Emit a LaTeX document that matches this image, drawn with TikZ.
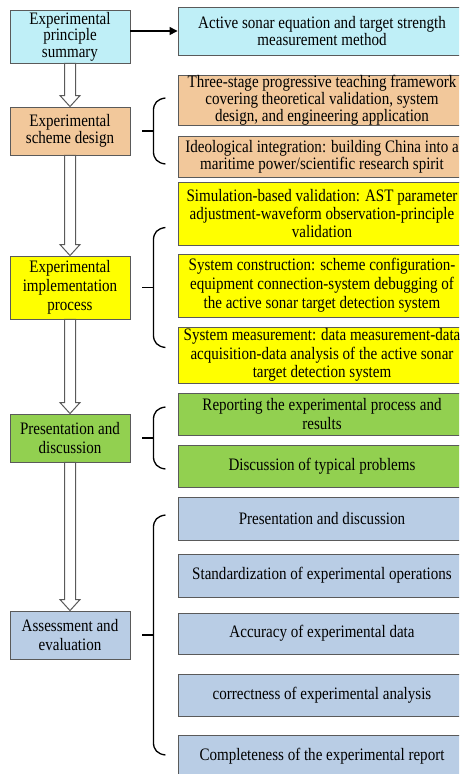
\documentclass[tikz,border=0pt]{standalone}
\usepackage{fontspec}
\setmainfont[FakeStretch=0.86]{Liberation Serif}
\usetikzlibrary{calc,arrows.meta}
\definecolor{cyanbox}{HTML}{BFEFF7}
\definecolor{tanbox}{HTML}{F2C89B}
\definecolor{yelbox}{HTML}{FFFF00}
\definecolor{grnbox}{HTML}{92D050}
\definecolor{blubox}{HTML}{B9CDE5}
\definecolor{edge}{HTML}{5A5A5A}
\tikzset{
  box/.style={draw=edge, line width=0.9pt, inner sep=0pt, align=center,
    font=\fontsize{17.5}{15}\selectfont},
  lsp/.style={font=\fontsize{17.5}{#1}\selectfont},
  lbox/.style={box, minimum width=120pt},
  rbox/.style={box, minimum width=288pt},
  hollow/.style={draw=edge, line width=1pt, fill=white, line join=miter},
  brace/.style={draw=black, line width=1.3pt},
  link/.style={draw=black, line width=1.3pt, -{Triangle[length=8pt,width=8pt]}}
}
\newcommand{\hollowarrow}[2]{%
  \path[hollow] ($(#1.south)+(-5.5,0)$) -- ($(#2.north)+(-5.5,-11)$)
    -- ($(#2.north)+(-10,-11)$) -- (#2.north) -- ($(#2.north)+(10,-11)$)
    -- ($(#2.north)+(5.5,-11)$) -- ($(#1.south)+(5.5,0)$) -- cycle;}
\newcommand{\groupbrace}[3]{% node, half height, x of curl end
  \draw[brace] ([xshift=12pt]#1.east) -- ++(11,0);
  \draw[brace] ($(#1.east)+(35,-#2)$) .. controls ($(#1.east)+(27,-#2+1)$) and ($(#1.east)+(23,-#2+5)$)
    .. ($(#1.east)+(23,-#2+13)$) -- ($(#1.east)+(23,#2-13)$)
    .. controls ($(#1.east)+(23,#2-5)$) and ($(#1.east)+(27,#2-1)$) .. ($(#1.east)+(35,#2)$);}
\begin{document}
\begin{tikzpicture}[x=1pt,y=-1pt]
\useasboundingbox (0,0) rectangle (459,774);
\clip (0,0) rectangle (459,774);
\fill[white] (0,0) rectangle (459,774);
% left column
\node[lbox, fill=cyanbox, minimum height=53pt, lsp=16.5] (p1) at (70,36.5) {Experimental\\principle\\summary};
\node[lbox, fill=tanbox, minimum height=48pt, lsp=15.5] (p2) at (70,131) {Experimental\\scheme design};
\node[lbox, fill=yelbox, minimum height=63pt, lsp=19] (p3) at (70,287.5) {Experimental\\implementation\\process};
\node[lbox, fill=grnbox, minimum height=48pt, lsp=19.5] (p4) at (70,438) {Presentation and\\discussion};
\node[lbox, fill=blubox, minimum height=48pt, lsp=18.3] (p5) at (70,635) {Assessment and\\evaluation};
% right column
\node[rbox, fill=cyanbox, minimum height=48pt, lsp=15.5] (r1) at (322,31) {Active sonar equation and target strength\\measurement method};
\node[rbox, fill=tanbox, minimum height=48pt, lsp=14.5] (o1) at (322,100) {Three-stage progressive teaching framework\\covering theoretical validation, system\\design, and engineering application};
\node[rbox, fill=tanbox, minimum height=41pt, lsp=14.5] (o2) at (322,156.5) {Ideological integration: building China into a\\maritime power/scientific research spirit};
\node[rbox, fill=yelbox, minimum height=63pt, lsp=18.3] (y1) at (322,213.5) {Simulation-based validation: AST parameter\\adjustment-waveform observation-principle\\validation};
\node[rbox, fill=yelbox, minimum height=63pt, lsp=19] (y2) at (322,285.5) {System construction: scheme configuration-\\equipment connection-system debugging of\\the active sonar target detection system};
\node[rbox, fill=yelbox, minimum height=56pt, lsp=18.3] (y3) at (322,355) {System measurement: data measurement-data\\acquisition-data analysis of the active sonar\\target detection system};
\node[rbox, fill=grnbox, minimum height=42pt, lsp=18.7] (g1) at (322,414) {Reporting the experimental process and\\results};
\node[rbox, fill=grnbox, minimum height=42pt] (g2) at (322,466) {Discussion of typical problems};
\node[rbox, fill=blubox, minimum height=43pt] (b1) at (322,518.5) {Presentation and discussion};
\node[rbox, fill=blubox, minimum height=43pt] (b2) at (322,575.5) {Standardization of experimental operations};
\node[rbox, fill=blubox, minimum height=41pt] (b3) at (322,633.5) {Accuracy of experimental data};
\node[rbox, fill=blubox, minimum height=42pt] (b4) at (322,695) {correctness of experimental analysis};
\node[rbox, fill=blubox, minimum height=42pt] (b5) at (322,756) {Completeness of the experimental report};
% connectors
\draw[link] (p1.east |- r1.west) -- (r1.west);
\hollowarrow{p1}{p2}
\hollowarrow{p2}{p3}
\hollowarrow{p3}{p4}
\hollowarrow{p4}{p5}
% braces
\groupbrace{p2}{33}{35}
\groupbrace{p3}{60}{35}
\groupbrace{p4}{31}{35}
\groupbrace{p5}{120}{35}
\end{tikzpicture}
\end{document}
